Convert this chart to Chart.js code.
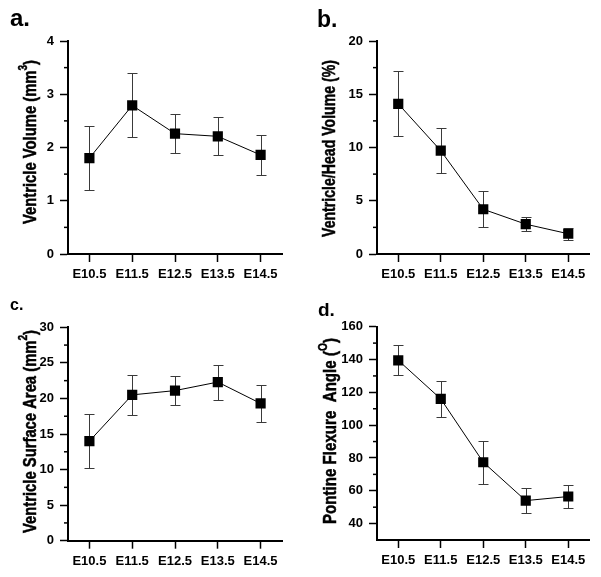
<!DOCTYPE html>
<html><head><meta charset="utf-8">
<script src="https://cdn.jsdelivr.net/npm/chart.js@4.4.0/dist/chart.umd.min.js"></script>
<style>
html,body{margin:0;padding:0;background:#fff;width:601px;height:577px;overflow:hidden;position:relative;}
canvas{position:absolute;}
</style></head><body>
<canvas id="ca" width="300" height="290" style="left:0;top:0"></canvas>
<canvas id="cb" width="301" height="290" style="left:300px;top:0"></canvas>
<canvas id="cc" width="300" height="287" style="left:0;top:290px"></canvas>
<canvas id="cd" width="301" height="287" style="left:300px;top:290px"></canvas>
<script>
const stages = ['E10.5','E11.5','E12.5','E13.5','E14.5'];
const volMean = [1.80, 2.79, 2.26, 2.21, 1.86];
const volErr = [0.60, 0.60, 0.37, 0.36, 0.38];
const ratioMean = [14.1, 9.7, 4.2, 2.8, 1.9];
const ratioErr = [3.05, 2.1, 1.7, 0.65, 0.55];
const areaMean = [14.0, 20.5, 21.1, 22.3, 19.3];
const areaErr = [3.8, 2.8, 2.05, 2.45, 2.65];
const angleMean = [139.5, 116.0, 77.4, 54.0, 56.5];
const angleErr = [9.2, 11.2, 13.2, 7.5, 7.3];
const volTicks = [0,1,2,3,4];
const ratioTicks = [0,5,10,15,20];
const areaTicks = [0,5,10,15,20,25,30];
const angleTicks = [40,60,80,100,120,140,160];

const FAM = '"Liberation Sans", Arial, sans-serif';

const errorBars = {
  id:'errorBars',
  beforeDatasetsDraw(chart){
    const ctx = chart.ctx, ys = chart.scales.y;
    chart.data.datasets.forEach((ds,i)=>{
      if(!ds.errors) return;
      const meta = chart.getDatasetMeta(i);
      ctx.save(); ctx.strokeStyle = '#3a3a3a'; ctx.lineWidth = 1;
      meta.data.forEach((pt,j)=>{
        const x = Math.round(pt.x)+0.5, v = ds.data[j], e = ds.errors[j];
        const yt = Math.round(ys.getPixelForValue(v+e))+0.5;
        const yb = Math.round(ys.getPixelForValue(v-e))+0.5;
        ctx.beginPath();
        ctx.moveTo(x,yt); ctx.lineTo(x,yb);
        ctx.moveTo(x-5,yt); ctx.lineTo(x+5,yt);
        ctx.moveTo(x-5,yb); ctx.lineTo(x+5,yb);
        ctx.stroke();
      });
      ctx.restore();
    });
  }
};

const minorTicks = {
  id:'minorTicks',
  afterDraw(chart){
    const ctx = chart.ctx, ys = chart.scales.y, left = chart.chartArea.left;
    const t = ys.ticks.map(k=>k.value);
    ctx.save(); ctx.strokeStyle='#000'; ctx.lineWidth=1.5;
    for(let i=0;i<t.length-1;i++){
      const p = ys.getPixelForValue((t[i]+t[i+1])/2);
      ctx.beginPath(); ctx.moveTo(left-4,p); ctx.lineTo(left,p); ctx.stroke();
    }
    ctx.restore();
  }
};

const richTitle = {
  id:'richTitle',
  afterDraw(chart, args, o){
    if(!o || !o.parts) return;
    const ctx = chart.ctx; ctx.save();
    const base = 'bold 19px '+FAM, sup = 'bold 13px '+FAM;
    let total = 0;
    const ws = o.parts.map(p=>{ctx.font = p.sup?sup:base; const w = ctx.measureText(p.t).width; total += w; return w;});
    const k = o.len/total;
    ctx.translate(o.bx, o.cy); ctx.rotate(-Math.PI/2); ctx.scale(k,1);
    let x = -total/2;
    ctx.fillStyle = '#000'; ctx.strokeStyle = '#000'; ctx.lineWidth = 0.5;
    ctx.textBaseline = 'alphabetic'; ctx.textAlign = 'left';
    o.parts.forEach((p,i)=>{
      ctx.font = p.sup?sup:base;
      const yy = p.sup?-9:0;
      ctx.fillText(p.t, x, yy); ctx.strokeText(p.t, x, yy);
      x += ws[i];
    });
    ctx.restore();
  }
};

const panelLabel = {
  id:'panelLabel',
  afterDraw(chart, args, o){
    if(!o || !o.text) return;
    const ctx = chart.ctx; ctx.save();
    ctx.font = 'bold '+o.size+'px '+FAM; ctx.fillStyle='#000';
    ctx.textBaseline='alphabetic'; ctx.textAlign='left';
    ctx.fillText(o.text, o.x, o.y);
    ctx.restore();
  }
};

function makeChart(id, mean, err, ticks, min, max, L){
  const tickFont = {family:FAM, size:13, weight:'bold'};
  const grid = {display:true, drawOnChartArea:false, drawTicks:true, tickLength:8, tickColor:'#000', tickWidth:1.5, color:'#000'};
  const border = {display:true, color:'#000', width:2};
  return new Chart(document.getElementById(id), {
    type:'line',
    data:{labels:stages, datasets:[{data:mean, errors:err, borderColor:'#000', borderWidth:1,
      pointStyle:'rect', pointRadius:7.2, pointHoverRadius:7.2, pointBackgroundColor:'#000',
      pointBorderColor:'#000', pointBorderWidth:0, fill:false, tension:0}]},
    options:{
      responsive:false, animation:false, events:[],
      layout:{padding:{top:L.top, right:L.right, left:0, bottom:0}},
      plugins:{legend:{display:false}, tooltip:{enabled:false},
        richTitle:{parts:L.title, bx:L.tbx, cy:L.tcy, len:L.tlen},
        panelLabel:{text:L.label, x:L.lx, y:L.ly, size:L.ls}},
      scales:{
        x:{type:'category', offset:true, grid:grid, border:border,
          ticks:{color:'#000', font:tickFont, padding:5, maxRotation:0, autoSkip:false},
          afterFit(s){s.height = L.xh;}},
        y:{min:min, max:max, grid:grid, border:border,
          afterBuildTicks(s){s.ticks = ticks.map(v=>({value:v}));},
          ticks:{color:'#000', font:tickFont, padding:6},
          afterFit(s){s.width = L.yw;}}
      }
    },
    plugins:[errorBars, minorTicks, richTitle, panelLabel]
  });
}

makeChart('ca', volMean, volErr, volTicks, 0, 4, {top:41, right:18, xh:36, yw:68,
  title:[{t:'Ventricle Volume (mm'},{t:'3',sup:true},{t:')'}], tbx:36, tcy:142, tlen:164,
  label:'a.', lx:10, ly:26, ls:24});
makeChart('cb', ratioMean, ratioErr, ratioTicks, 0, 20, {top:41, right:11.5, xh:36, yw:77,
  title:[{t:'Ventricle/Head Volume (%)'}], tbx:35, tcy:148.5, tlen:177,
  label:'b.', lx:17, ly:27, ls:23});
makeChart('cc', areaMean, areaErr, areaTicks, 0, 30, {top:37.3, right:18, xh:36.3, yw:68,
  title:[{t:'Ventricle Surface Area (mm'},{t:'2',sup:true},{t:')'}], tbx:35.5, tcy:141.5, tlen:203,
  label:'c.', lx:10, ly:20, ls:16});
makeChart('cd', angleMean, angleErr, angleTicks, 30, 160, {top:36.7, right:11.5, xh:37, yw:77,
  title:[{t:'Pontine Flexure  Angle ('},{t:'O',sup:true},{t:')'}], tbx:36, tcy:141, tlen:186,
  label:'d.', lx:18, ly:26, ls:19});
</script>
</body></html>
